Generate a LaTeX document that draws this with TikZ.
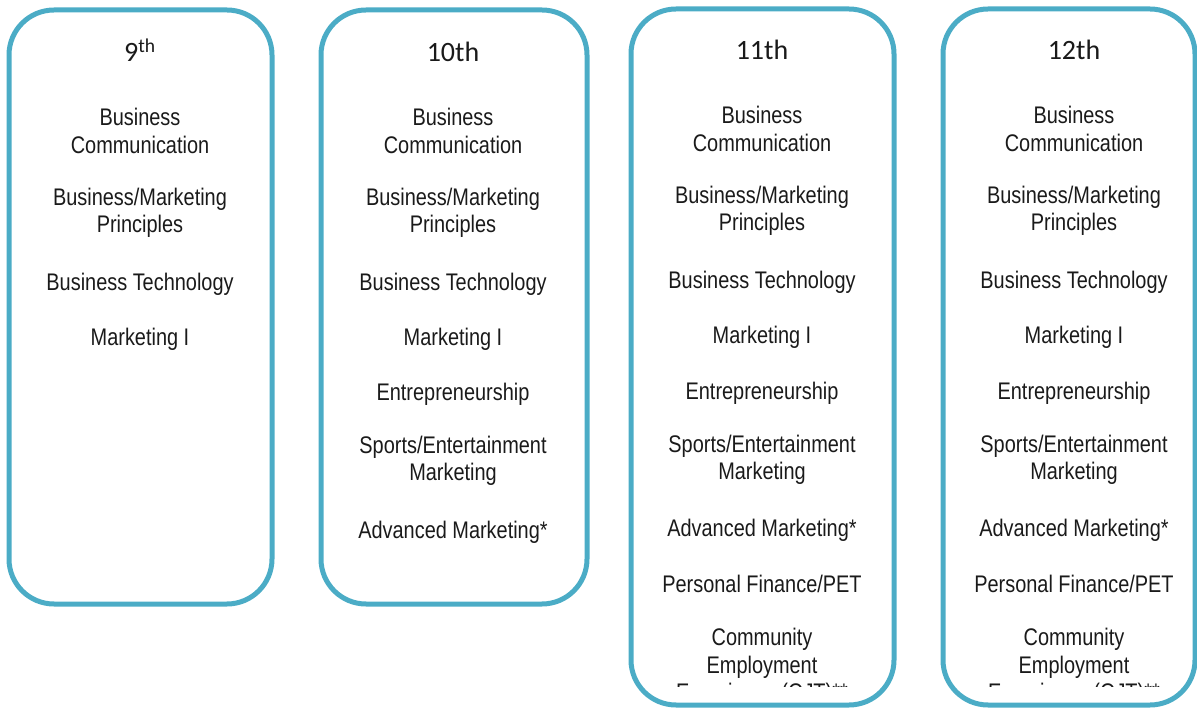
\documentclass[tikz,border=0pt]{standalone}
\usepackage{fontspec}
\setmainfont{Liberation Sans}[FakeStretch=0.83]
\newfontfamily\headfont{Carlito}
\definecolor{boxteal}{HTML}{4BACC6}
\definecolor{inktext}{HTML}{1A1A1A}
\tikzset{
  grade/.style={draw=boxteal,line width=5pt,rounded corners=45pt},
  course/.style={align=center,text=inktext,inner sep=0pt,
    font=\fontsize{24}{27.5}\selectfont},
  head/.style={text=inktext,inner sep=0pt,font=\headfont\fontsize{28}{32}\selectfont}
}
\begin{document}
\begin{tikzpicture}[x=1pt,y=-1pt]
\useasboundingbox (0,0) rectangle (1197,708);
% the four grade boxes
\draw[grade] (9,10) rectangle (272,604);
\draw[grade] (321,10) rectangle (587,604);
\draw[grade] (631,9) rectangle (894,705);
\draw[grade] (943,9) rectangle (1195,705);
% 9th
\node[head] (H9) at (140,50) {9\textsuperscript{th}};
\node[course] (N1) at (140,131) {Business\\Communication};
\node[course] (N2) at (140,213) {Business/Marketing\\Principles};
\node[course] (N3) at (140,284) {Business Technology};
\node[course] (N4) at (140,339) {Marketing I};
% 10th
\node[head] (H10) at (453,52) {10th};
\node[course] (T1) at (453,131) {Business\\Communication};
\node[course] (T2) at (453,213) {Business/Marketing\\Principles};
\node[course] (T3) at (453,284) {Business Technology};
\node[course] (T4) at (453,339) {Marketing I};
\node[course] (T5) at (453,394) {Entrepreneurship};
\node[course] (T6) at (453,461) {Sports/Entertainment\\Marketing};
\node[course] (T7) at (453,532) {Advanced Marketing*};
% 11th and 12th
\foreach \g/\x in {11/762,12/1074}{
  \node[head] (H\g) at (\x,50) {\g th};
  \node[course] (C\g a) at (\x,129) {Business\\Communication};
  \node[course] (C\g b) at (\x,211) {Business/Marketing\\Principles};
  \node[course] (C\g c) at (\x,282) {Business Technology};
  \node[course] (C\g d) at (\x,337) {Marketing I};
  \node[course] (C\g e) at (\x,393) {Entrepreneurship};
  \node[course] (C\g f) at (\x,460) {Sports/Entertainment\\Marketing};
  \node[course] (C\g g) at (\x,530) {Advanced Marketing*};
  \node[course] (C\g h) at (\x,584) {Personal Finance/PET};
  \begin{scope}
    \clip (0,0) rectangle (1197,686);
    \node[course] (C\g i) at (\x,667) {Community\\Employment\\Experience (OJT)**};
  \end{scope}
}
\end{tikzpicture}
\end{document}
